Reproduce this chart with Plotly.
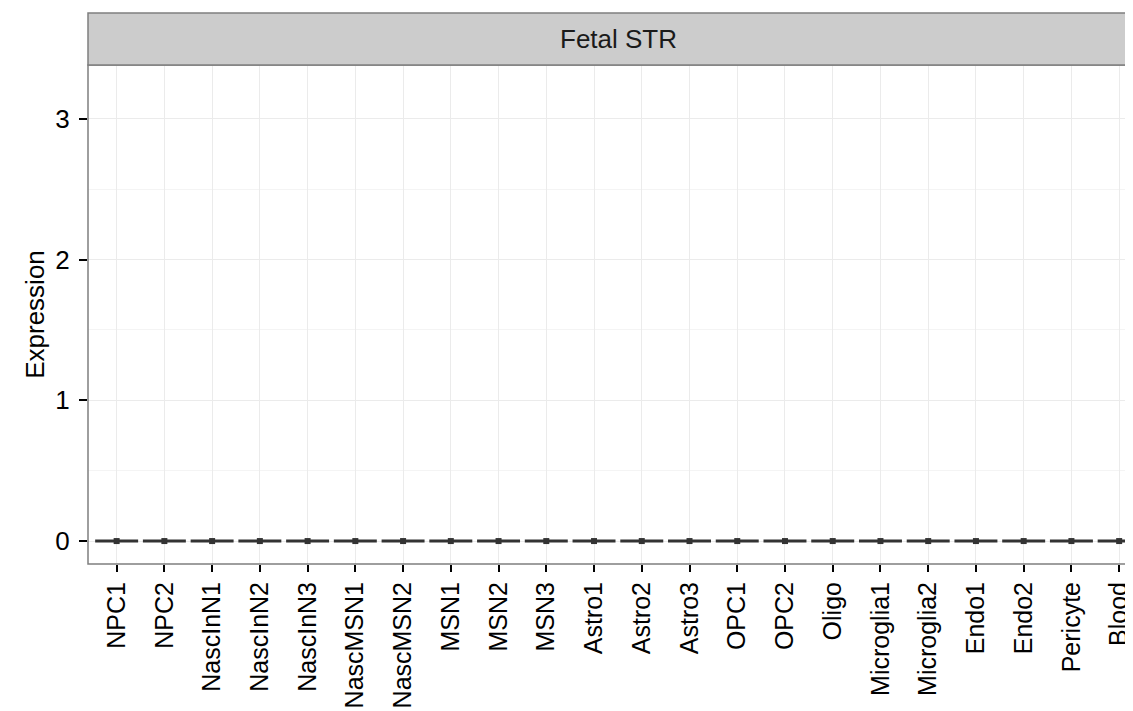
import plotly.graph_objects as go

categories = ["NPC1", "NPC2", "NascInN1", "NascInN2", "NascInN3", "NascMSN1", "NascMSN2",
              "MSN1", "MSN2", "MSN3", "Astro1", "Astro2", "Astro3", "OPC1", "OPC2", "Oligo",
              "Microglia1", "Microglia2", "Endo1", "Endo2", "Pericyte", "Blood"]
q1_vals = [0.0] * 22
median_vals = [0.0] * 22
q3_vals = [0.0] * 22
lower_vals = [0.0] * 22
upper_vals = [0.0] * 22
mean_vals = [0.0] * 22
y_ticks = [0, 1, 2, 3]
y_minor = [0.5, 1.5, 2.5]
facet_label = "Fetal STR"

FONT = "Liberation Sans, Arial, Helvetica, sans-serif"
# page body has an 8px margin; size figure accordingly
W, H = 1125, 703
ML, MR, MT, MB = 80, 0, 57, 147

fig = go.Figure()
fig.add_trace(go.Box(
    x=categories, q1=q1_vals, median=median_vals, q3=q3_vals,
    lowerfence=lower_vals, upperfence=upper_vals,
    width=0.9, fillcolor="white",
    line=dict(color="#333333", width=3),
    boxpoints=False, showlegend=False, hoverinfo="skip",
))
fig.add_trace(go.Scatter(
    x=categories, y=mean_vals, mode="markers",
    marker=dict(color="#333333", size=6, symbol="square"),
    showlegend=False, hoverinfo="skip",
))

x_range = [-0.6, 21.29]
fig.update_xaxes(
    type="category", categoryorder="array", categoryarray=categories,
    range=x_range, showgrid=True, gridcolor="#EBEBEB", gridwidth=1,
    ticks="outside", ticklen=7, tickwidth=2, tickcolor="black",
    tickangle=-90, tickfont=dict(family=FONT, size=25, color="black"),
    showline=False, zeroline=False, automargin=False,
)
fig.update_yaxes(
    range=[-0.163, 3.383], tickvals=y_ticks, ticktext=[str(v) for v in y_ticks],
    showgrid=True, gridcolor="#EBEBEB", gridwidth=1,
    minor=dict(tickvals=y_minor, showgrid=True, gridcolor="#F4F4F4", gridwidth=1, ticks=""),
    ticks="outside", ticklen=8, tickwidth=2, tickcolor="black",
    ticklabelstandoff=4,
    tickfont=dict(family=FONT, size=26, color="black"),
    zeroline=False, showline=False, automargin=False,
    title=dict(text="Expression", font=dict(family=FONT, size=26, color="black"), standoff=3),
)

fig.add_shape(type="rect", xref="paper", yref="paper", x0=0, x1=1.05, y0=0, y1=1,
              line=dict(color="#7F7F7F", width=1.5), fillcolor="rgba(0,0,0,0)", layer="above")
strip_h = 52 / (H - MT - MB)
fig.add_shape(type="rect", xref="paper", yref="paper", x0=0, x1=1.05, y0=1, y1=1 + strip_h,
              line=dict(color="#7F7F7F", width=1.5), fillcolor="#CCCCCC", layer="above")
fig.add_annotation(text=facet_label, xref="paper", yref="paper",
                   x=(610 - ML) / (W - ML - MR), y=1 + strip_h / 2, showarrow=False,
                   xanchor="center", yanchor="middle",
                   font=dict(family=FONT, size=26, color="#1A1A1A"))

fig.update_layout(
    width=W, height=H, margin=dict(l=ML, r=MR, t=MT, b=MB),
    paper_bgcolor="white", plot_bgcolor="white",
    font=dict(family=FONT),
)
fig.write_html("out.html")
